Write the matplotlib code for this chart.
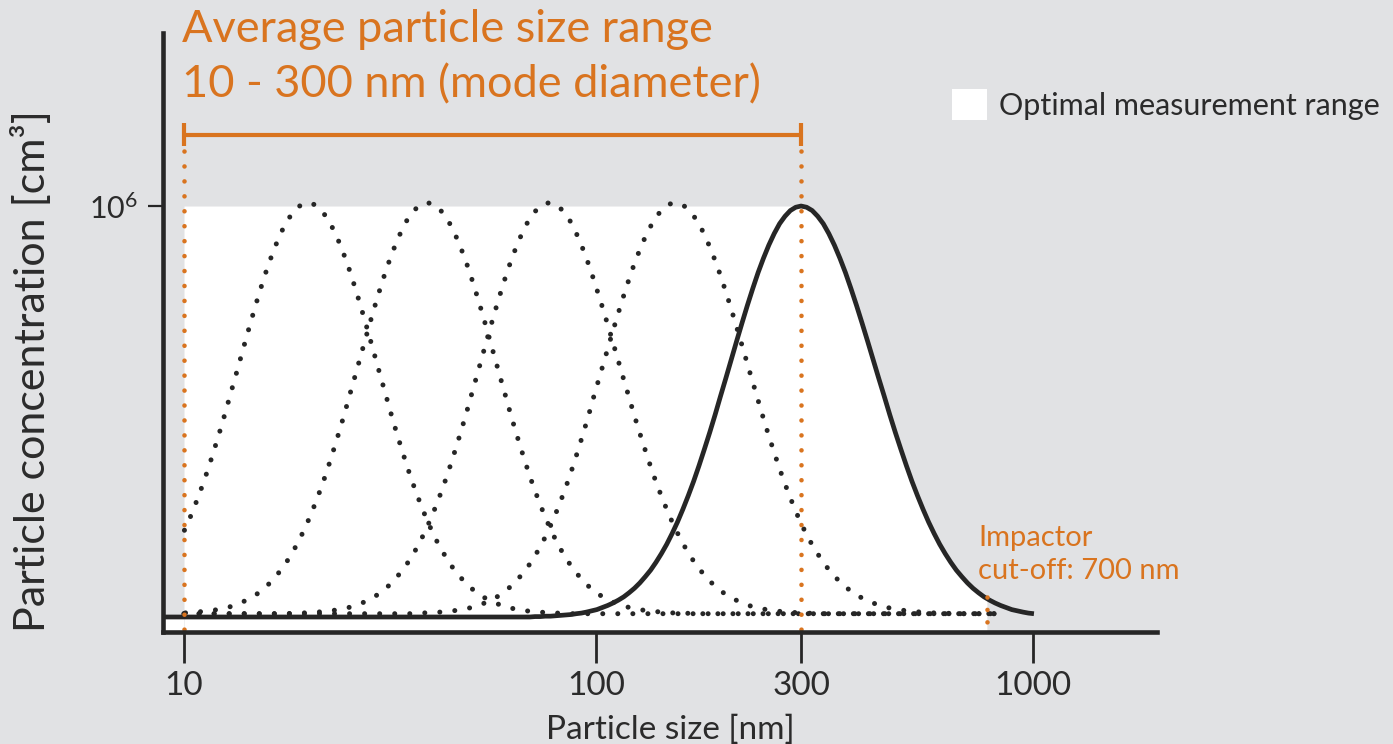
import numpy as np
import matplotlib
matplotlib.use("Agg")
import matplotlib.pyplot as plt
from matplotlib.patches import Patch
from matplotlib.ticker import NullLocator

# ------------------------------------------------------------------ data
mode_diameters_dotted = [20, 39, 77, 153]      # nm, example distributions
mode_diameter_solid = 300                        # nm, highlighted distribution
peak_concentration = 1e6                         # cm^-3
range_min_nm = 10
range_max_nm = 300
impactor_cutoff_nm = 787                         # position of cut-off marker as drawn
solid_end_nm = 1005
dotted_end_nm = 850
# relative height of a size distribution vs. distance from its mode (decades, step 0.0125)
profile_step_dec = 0.0125
profile_heights = [1.000, 0.997, 0.989, 0.975, 0.957, 0.933, 0.905, 0.873, 0.838,
                   0.799, 0.758, 0.715, 0.671, 0.626, 0.581, 0.537, 0.492, 0.449,
                   0.408, 0.368, 0.330, 0.295, 0.262, 0.231, 0.203, 0.177, 0.154,
                   0.133, 0.114, 0.098, 0.083, 0.070, 0.059, 0.049, 0.041, 0.034,
                   0.028, 0.023, 0.018, 0.015, 0.012, 0.0095, 0.008, 0.006, 0.005,
                   0.004, 0.003, 0.002, 0.002, 0.001, 0.001, 0.000, 0.000]
x_ticks = [10, 100, 300, 1000]
x_tick_labels = ["10", "100", "300", "1000"]
y_ticks = [1e6]
y_tick_labels = [r"$\mathregular{10^6}$"]

title_lines = ["Average particle size range", "10 - 300 nm (mode diameter)"]
legend_label = "Optimal measurement range"
impactor_lines = ["Impactor", "cut-off: 700 nm"]
x_label = "Particle size [nm]"
y_label = "Particle concentration [cm³]"

# ------------------------------------------------------------------ style
BG = "#e1e2e4"
ORANGE = "#d9741f"
INK = "#262626"
TXT = "#2b2b2b"
W, H = 1393, 744

plt.rcParams["font.family"] = ["Lato", "DejaVu Sans"]
plt.rcParams["mathtext.fontset"] = "custom"
plt.rcParams["mathtext.rm"] = "Lato"

# axis as drawn: nm anchors -> horizontal position (in units of the 10-100 decade)
anchor_nm = np.array([1, 10, 100, 300, 1000, 10000], dtype=float)
anchor_pos = np.array([-1.0, 0.0, 1.0, 1.498, 2.061, 3.139])
anchor_log = np.log10(anchor_nm)


def fwd(x):
    x = np.asarray(x, dtype=float)
    return np.interp(np.log10(np.maximum(x, 1e-9)), anchor_log, anchor_pos)


def inv(p):
    p = np.asarray(p, dtype=float)
    return 10 ** np.interp(p, anchor_pos, anchor_log)


fig = plt.figure(figsize=(W / 100, H / 100), dpi=100, facecolor=BG)
ax = fig.add_axes([163 / W, (H - 632) / H, (1157 - 163) / W, (632 - 33) / H])
ax.set_facecolor("none")
ax.set_xscale("function", functions=(fwd, inv))

y_bot = -0.0365e6
y_top = 1.421e6
x_left = float(inv(-0.051))
x_right = float(inv(2.362))
ax.set_xlim(x_left, x_right)
ax.set_ylim(y_bot, y_top)

prof = np.array(profile_heights)
off = np.arange(len(prof)) * profile_step_dec
offs_full = np.concatenate([-off[::-1], off[1:]])
prof_full = np.concatenate([prof[::-1], prof[1:]])


def distribution(mode, x_lo, x_hi, base=0.0):
    xs = mode * 10 ** offs_full
    ys = peak_concentration * prof_full
    m = (xs >= x_lo) & (xs <= x_hi)
    cx, cy = list(xs[m]), list(ys[m])
    if m[0]:
        cx.insert(0, x_lo)
        cy.insert(0, 0.0)
    if m[-1]:
        cx.append(x_hi)
        cy.append(0.0)
    return np.array(cx), np.array(cy) + base


# white "optimal measurement range" area
sx, sy = distribution(mode_diameter_solid, x_left, solid_end_nm)
cut_y = np.interp(np.log10(impactor_cutoff_nm), np.log10(sx), sy)
sel = (sx >= mode_diameter_solid) & (sx <= impactor_cutoff_nm)
fx = np.concatenate([[range_min_nm], sx[sel], [impactor_cutoff_nm]])
fy = np.concatenate([[peak_concentration], sy[sel], [cut_y]])
ax.fill_between(fx, y_bot, fy, color="white", lw=0, zorder=0.5)
ax.fill_between([x_left, range_min_nm], y_bot, 0, color="white", lw=0, zorder=0.5)

# dotted example distributions
for md in mode_diameters_dotted:
    dx, dy = distribution(md, range_min_nm, dotted_end_nm, base=0.008e6)
    ax.plot(dx, dy, color=INK, lw=3.6, linestyle=(0, (0.01, 3.0)),
            dash_capstyle="round", zorder=2)

# highlighted distribution
ax.plot(sx, sy, color=INK, lw=3.4, solid_capstyle="butt", solid_joinstyle="round", zorder=3)

# orange markers
dot_top = 1.134e6
for xv in [range_min_nm, range_max_nm]:
    ax.plot([xv, xv], [dot_top, y_bot], color=ORANGE, lw=3.3,
            linestyle=(0, (0.01, 3.25)), dash_capstyle="round", zorder=4)
ax.plot([impactor_cutoff_nm, impactor_cutoff_nm], [0.049e6, y_bot], color=ORANGE,
        lw=3.3, linestyle=(0, (0.01, 2.7)), dash_capstyle="round", zorder=4)

bracket_y = 1.173e6
ax.plot([range_min_nm, range_max_nm], [bracket_y, bracket_y], color=ORANGE, lw=3.0,
        solid_capstyle="butt", zorder=4, clip_on=False)
for xv in [range_min_nm, range_max_nm]:
    ax.plot([xv, xv], [bracket_y - 0.028e6, bracket_y + 0.028e6], color=ORANGE,
            lw=3.0, solid_capstyle="butt", zorder=4, clip_on=False)

# axes styling
for s in ["top", "right"]:
    ax.spines[s].set_visible(False)
for s in ["left", "bottom"]:
    ax.spines[s].set_linewidth(3.3)
    ax.spines[s].set_color(INK)
    ax.spines[s].set_capstyle("projecting")
    ax.spines[s].set_zorder(5)

ax.set_xticks(x_ticks)
ax.set_xticklabels(x_tick_labels)
ax.xaxis.set_minor_locator(NullLocator())
ax.set_yticks(y_ticks)
ax.set_yticklabels(y_tick_labels)
ax.yaxis.set_minor_locator(NullLocator())
ax.tick_params(axis="x", direction="out", length=22, width=2.0, pad=6,
               labelsize=24, colors=INK, labelcolor=TXT)
ax.tick_params(axis="y", direction="out", length=11, width=1.6, pad=7,
               labelsize=22, colors=INK, labelcolor=TXT)

ax.set_xlabel(x_label, fontsize=24, color=TXT, va="baseline")
ax.xaxis.set_label_coords((670 - 163) / 994, (632 - 739) / 599)
ax.set_ylabel(y_label, fontsize=31, color=TXT, va="center")
ax.yaxis.set_label_coords((32 - 163) / 994, (632 - 371) / 599)

# title
fig.text(182 / W, 1 - 42 / H, title_lines[0], color=ORANGE, fontsize=32.5, va="baseline")
fig.text(182 / W, 1 - 97 / H, title_lines[1], color=ORANGE, fontsize=32.5, va="baseline")

# impactor note
fig.text(978 / W, 1 - 546 / H, impactor_lines[0], color=ORANGE, fontsize=21, va="baseline")
fig.text(978 / W, 1 - 579 / H, impactor_lines[1], color=ORANGE, fontsize=21, va="baseline")

# legend
ax.legend(handles=[Patch(facecolor="white", edgecolor="none", label=legend_label)],
          loc="center left", bbox_to_anchor=(952 / W, 1 - 104.5 / H),
          bbox_transform=fig.transFigure, frameon=False, borderpad=0,
          borderaxespad=0, handlelength=1.15, handleheight=1.15,
          handletextpad=0.38, fontsize=22, labelcolor=TXT)

fig.savefig("out.png", dpi=100, facecolor=BG)
